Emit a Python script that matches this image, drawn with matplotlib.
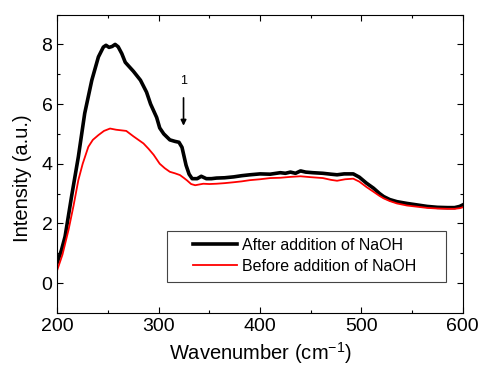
import matplotlib
matplotlib.use("Agg")
import matplotlib.pyplot as plt
from matplotlib.ticker import MultipleLocator
from matplotlib.patches import Rectangle

plt.rcParams['font.family'] = ['Liberation Sans', 'DejaVu Sans']
plt.rcParams['mathtext.fontset'] = 'custom'
plt.rcParams['mathtext.rm'] = 'Liberation Sans'
plt.rcParams['mathtext.it'] = 'Liberation Sans'
plt.rcParams['mathtext.default'] = 'regular'

wn_after = [200, 204, 207.6, 214, 220.7, 227, 234, 240.5, 245.4, 248, 251, 254, 257, 260,
            263.6, 267, 275, 282, 288, 292, 298, 301, 305, 311, 316, 320, 323, 327, 330,
            333, 338, 342, 347, 352, 357, 365, 374, 382, 390, 400, 410, 420, 425, 430,
            435, 440, 445, 452, 462, 470, 476, 483, 492, 498, 505, 512, 518, 522, 528,
            535, 545, 555, 565, 575, 585, 592, 597, 600]
int_after = [0.7, 1.1, 1.56, 2.9, 4.23, 5.69, 6.8, 7.58, 7.91, 7.97, 7.9, 7.93, 8.0, 7.92,
             7.69, 7.4, 7.1, 6.8, 6.4, 6.0, 5.55, 5.2, 5.0, 4.8, 4.75, 4.72, 4.55, 3.95, 3.65,
             3.5, 3.5, 3.58, 3.5, 3.5, 3.52, 3.53, 3.56, 3.6, 3.63, 3.66, 3.65, 3.7, 3.68, 3.72,
             3.68, 3.76, 3.72, 3.7, 3.68, 3.65, 3.63, 3.66, 3.66, 3.55, 3.35, 3.18, 3.0, 2.9, 2.8,
             2.73, 2.67, 2.62, 2.57, 2.54, 2.53, 2.53, 2.57, 2.62]

wn_before = [200, 205, 211, 216, 220.7, 225, 230.6, 235, 240.5, 246, 252, 258, 263, 268, 275,
             280, 285, 290, 295, 301, 306, 311, 316, 321, 325, 328, 332, 336, 344, 350,
             357, 365, 374, 382, 390, 400, 410, 420, 430, 440, 450, 462, 470, 476, 484,
             492, 498, 505, 512, 518, 522, 528, 535, 545, 555, 565, 575, 585, 592, 597, 600]
int_before = [0.45, 0.95, 1.78, 2.6, 3.45, 4.0, 4.57, 4.8, 4.96, 5.1, 5.18, 5.14, 5.12, 5.1, 4.92,
              4.8, 4.68, 4.5, 4.3, 4.0, 3.85, 3.73, 3.68, 3.62, 3.52, 3.44, 3.32, 3.28, 3.33, 3.32,
              3.33, 3.35, 3.38, 3.41, 3.45, 3.48, 3.52, 3.53, 3.56, 3.58, 3.55, 3.52, 3.46, 3.43, 3.48,
              3.5, 3.4, 3.22, 3.06, 2.92, 2.84, 2.75, 2.67, 2.6, 2.56, 2.52, 2.5, 2.49, 2.49, 2.51, 2.54]

labels = ["After addition of NaOH", "Before addition of NaOH"]
arrow_x = 324.5
arrow_top, arrow_tip = 6.3, 5.18

fig = plt.figure(figsize=(4.82, 3.73), dpi=100)
ax = fig.add_axes([0.119, 0.161, 0.841, 0.8])

ax.plot(wn_after, int_after, color='black', lw=2.6, label=labels[0])
ax.plot(wn_before, int_before, color='#ff0000', lw=1.3, label=labels[1])

ax.annotate('', xy=(arrow_x, arrow_tip), xytext=(arrow_x, arrow_top),
            arrowprops=dict(arrowstyle='-|>', color='black', lw=1.2, mutation_scale=8))
ax.text(arrow_x, 6.77, '1', ha='center', va='center', fontsize=9)

ax.set_xlim(200, 600)
ax.set_ylim(-1, 9)
ax.xaxis.set_major_locator(MultipleLocator(100))
ax.xaxis.set_minor_locator(MultipleLocator(50))
ax.yaxis.set_major_locator(MultipleLocator(2))
ax.yaxis.set_minor_locator(MultipleLocator(1))
ax.tick_params(which='both', direction='in', top=True, right=True, labelsize=14, width=0.8)
ax.tick_params(which='major', length=4)
ax.tick_params(which='minor', length=2.5)
for s in ax.spines.values():
    s.set_linewidth(0.8)

ax.set_xlabel('Wavenumber (cm$^{-1}$)', fontsize=14.5, labelpad=4)
ax.set_ylabel('Intensity (a.u.)', fontsize=14.5)
ax.yaxis.set_label_coords(-0.062, 0.45)

frame = Rectangle((0.271, 0.105), 0.688, 0.171, transform=ax.transAxes,
                  facecolor='white', edgecolor='#444444', lw=0.8, zorder=4.9)
ax.add_patch(frame)
leg = ax.legend(loc='center left', bbox_to_anchor=(0.335, 0.1915),
                fontsize=11.5, frameon=False, handlelength=2.75, handletextpad=0.3,
                borderpad=0, labelspacing=0.4, borderaxespad=0)
leg.set_zorder(5)

fig.savefig('out.png', dpi=100)
